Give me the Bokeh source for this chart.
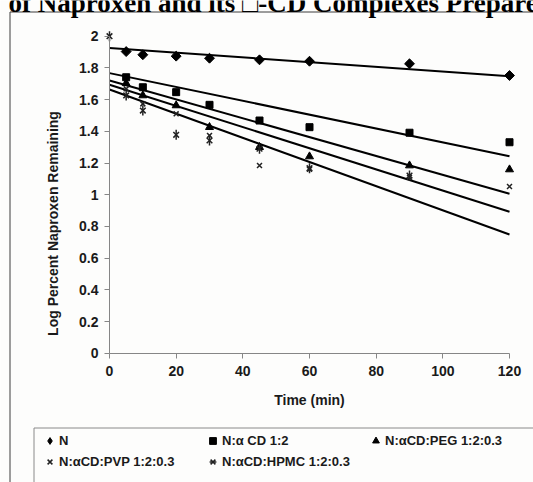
import math
from bokeh.plotting import figure
from bokeh.models import (Range1d, FixedTicker, NumeralTickFormatter, Label,
                          BoxAnnotation, Legend, LegendItem)
from bokeh.embed import file_html
from bokeh.resources import INLINE

# ---------------- data ----------------
time_n = [5, 10, 20, 30, 45, 60, 90, 120]
log_n = [1.903, 1.883, 1.874, 1.861, 1.851, 1.842, 1.826, 1.752]

time_acd = [5, 10, 20, 30, 45, 60, 90, 120]
log_acd = [1.741, 1.678, 1.647, 1.567, 1.468, 1.426, 1.391, 1.331]

time_peg = [5, 10, 20, 30, 45, 60, 90, 120]
log_peg = [1.703, 1.626, 1.563, 1.426, 1.300, 1.241, 1.184, 1.159]

time_pvp = [5, 10, 20, 30, 45, 60, 90, 120]
log_pvp = [1.668, 1.573, 1.510, 1.374, 1.184, 1.160, 1.110, 1.052]

time_hpmc = [0, 5, 10, 20, 30, 45, 60, 90]
log_hpmc = [2.000, 1.626, 1.531, 1.378, 1.342, 1.290, 1.167, 1.121]

series_names = ["N", "N:α CD 1:2", "N:αCD:PEG 1:2:0.3",
                "N:αCD:PVP 1:2:0.3", "N:αCD:HPMC 1:2:0.3"]

# linear trend lines: value at t = 0 and at t = 120
trend_t = [0, 120]
trend_start = [1.925, 1.767, 1.721, 1.694, 1.664]
trend_end = [1.748, 1.243, 1.006, 0.892, 0.749]

x_ticks = [0, 20, 40, 60, 80, 100, 120]
y_ticks = [0, 0.2, 0.4, 0.6, 0.8, 1, 1.2, 1.4, 1.6, 1.8, 2]

title_text = "of Naproxen and its \u25a1-CD Complexes Prepared"
x_title = "Time (min)"
y_title = "Log Percent Naproxen Remaining"

# ---------------- layout ----------------
W, H = 533, 482
PX_PER_X = 400 / 120.0
PX_PER_Y = 158.5
ORIGIN_PX = (109.0, 352.7)       # canvas px of (t=0, log=0)
X0 = -ORIGIN_PX[0] / PX_PER_X
X1 = X0 + W / PX_PER_X
Y0 = -(H - ORIGIN_PX[1]) / PX_PER_Y
Y1 = Y0 + H / PX_PER_Y


def cx(px):
    return X0 + px / PX_PER_X


def cy(py):
    return Y0 + (H - py) / PX_PER_Y


BG = "#fdfdfc"
AXIS_GRAY = "#868686"
FONT = "Liberation Sans"
TXT = "#1a1a1a"

p = figure(width=W, height=H, x_range=Range1d(X0, X1), y_range=Range1d(Y0, Y1),
           output_backend="svg", toolbar_location=None,
           min_border=0, min_border_left=0, min_border_right=0,
           min_border_top=0, min_border_bottom=0,
           background_fill_color=BG, border_fill_color=BG,
           outline_line_color=None)
p.xgrid.visible = False
p.ygrid.visible = False

for ax in (p.xaxis[0], p.yaxis[0]):
    ax.fixed_location = 0
    ax.axis_line_color = AXIS_GRAY
    ax.axis_line_width = 1
    ax.major_tick_line_color = AXIS_GRAY
    ax.major_tick_in = 0
    ax.major_tick_out = 5
    ax.minor_tick_line_color = None
    ax.major_label_text_font = FONT
    ax.major_label_text_font_style = "bold"
    ax.major_label_text_font_size = "14px"
    ax.major_label_text_color = TXT

xa = p.xaxis[0]
xa.bounds = (0, 120)
xa.ticker = FixedTicker(ticks=x_ticks)
xa.major_label_standoff = 8
xa.axis_label = x_title
xa.axis_label_text_font = FONT
xa.axis_label_text_font_style = "bold"
xa.axis_label_text_font_size = "14px"
xa.axis_label_text_color = TXT
xa.axis_label_standoff = 12

ya = p.yaxis[0]
ya.bounds = (0, 2)
ya.ticker = FixedTicker(ticks=y_ticks)
ya.formatter = NumeralTickFormatter(format="0.[0]")
ya.major_label_standoff = 6

# ---------------- frames / texts ----------------
outer = BoxAnnotation(left=cx(9.5), right=cx(700), top=cy(11.5), bottom=cy(700),
                      fill_color=None, fill_alpha=0, line_color="#3c3c3c",
                      line_alpha=1.0, line_dash="solid", line_width=1)
p.add_layout(outer)

legend_box = BoxAnnotation(left=cx(33.5), right=cx(700), top=cy(427.5), bottom=cy(700),
                           fill_color=None, fill_alpha=0, line_color="#8a8a8a",
                           line_alpha=1.0, line_dash="solid", line_width=1)
p.add_layout(legend_box)

p.add_layout(Label(x=cx(8), y=cy(2), text=title_text, text_align="left",
                   text_baseline="alphabetic", text_font="Liberation Serif",
                   text_font_style="bold", text_font_size="27px", text_color="black"))

p.add_layout(Label(x=cx(52), y=cy(223), text=y_title, angle=math.pi / 2,
                   text_align="center", text_baseline="middle", text_font=FONT,
                   text_font_style="bold", text_font_size="14px", text_color=TXT))

# ---------------- trend lines ----------------
for s, e in zip(trend_start, trend_end):
    p.line(trend_t, [s, e], line_color="black", line_width=2)

# ---------------- markers ----------------
r_n = p.scatter(time_n, log_n, marker="square", angle=math.pi / 4, size=7,
                fill_color="black", line_color="black")
# legend swatch for N (the legend draws markers unrotated)
r_n_key = p.scatter(time_n, log_n, marker="diamond", size=0,
                    fill_color="black", line_color="black")
r_acd = p.scatter(time_acd, log_acd, marker="square", size=7,
                  fill_color="black", line_color="black")
r_peg = p.scatter(time_peg, log_peg, marker="triangle", size=8,
                  fill_color="black", line_color="black")
r_pvp = p.scatter(time_pvp, log_pvp, marker="x", size=7,
                  line_color="#222222", line_width=1.5)
r_hpmc_x = p.scatter(time_hpmc, log_hpmc, marker="x", size=8,
                     line_color="#222222", line_width=1.5)
r_hpmc_v = p.scatter(time_hpmc, log_hpmc, marker="dash", angle=math.pi / 2, size=10,
                     line_color="#222222", line_width=1.5)

items = [
    LegendItem(label=series_names[0], renderers=[r_n_key]),
    LegendItem(label=series_names[1], renderers=[r_acd]),
    LegendItem(label=series_names[2], renderers=[r_peg]),
    LegendItem(label=series_names[3], renderers=[r_pvp]),
    LegendItem(label=series_names[4], renderers=[r_hpmc_x, r_hpmc_v]),
]
GW, GH, SP = 17, 17, 4
leg_top = 431.5
leg_h = 2 * GH + SP
legend = Legend(items=items, location=(41, H - (leg_top + leg_h)),
                orientation="horizontal", ncols=3,
                padding=0, spacing=SP, margin=0,
                glyph_width=GW, glyph_height=GH, label_height=GH,
                label_width=163 - GW - 1 - SP, label_standoff=1,
                label_text_font=FONT, label_text_font_style="bold",
                label_text_font_size="13px", label_text_color=TXT,
                border_line_color=None, background_fill_alpha=0)
p.add_layout(legend)

open("out.html", "w").write(file_html(p, INLINE))
